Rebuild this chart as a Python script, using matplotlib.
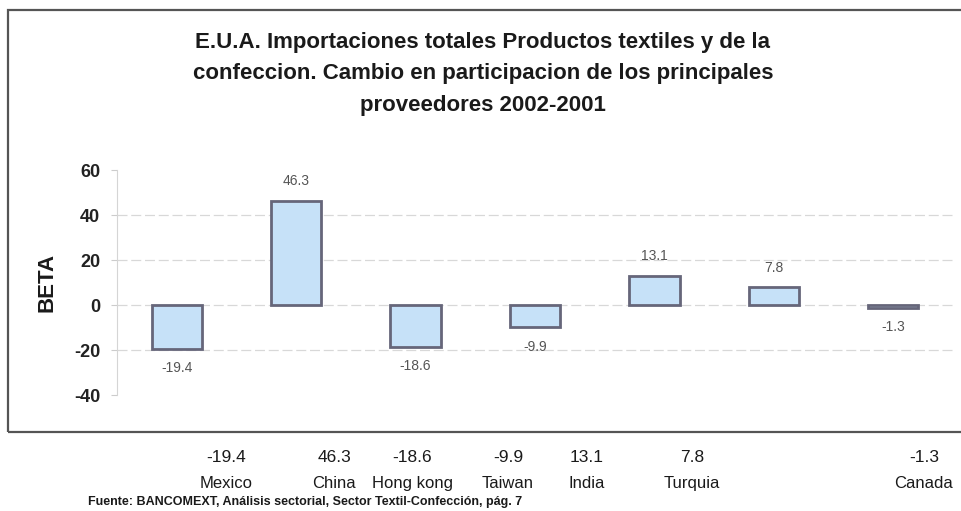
import matplotlib
matplotlib.use('Agg')
import matplotlib.pyplot as plt
from matplotlib.patches import Rectangle

plt.rcParams['font.family'] = ['Liberation Sans', 'DejaVu Sans']

# Data
countries = ['Mexico', 'China', 'Hong kong', 'Taiwan', 'India', 'Turquia', 'Canada']
values = [-19.4, 46.3, -18.6, -9.9, 13.1, 7.8, -1.3]
y_ticks = [60, 40, 20, 0, -20, -40]

# layout: centers (pixels) of the table labels under the frame
table_x_px = [226, 334, 412, 508, 587, 692, 924]

W, H = 962, 511
fig = plt.figure(figsize=(W / 100, H / 100), dpi=100)
fig.patch.set_facecolor('white')

# outer frame
frame = Rectangle((8 / W, 1 - 432 / H), (W - 6) / W, (432 - 10) / H,
                  transform=fig.transFigure, fill=False,
                  edgecolor='#555555', linewidth=1.6)
fig.add_artist(frame)

# title
fig.text(483 / W, 1 - 74 / H,
         'E.U.A. Importaciones totales Productos textiles y de la\n'
         'confeccion. Cambio en participacion de los principales\n'
         'proveedores 2002-2001',
         ha='center', va='center', fontsize=16, fontweight='bold',
         color='#1a1a1a', linespacing=1.65)

ax = fig.add_axes([117 / W, 1 - 395 / H, 836 / W, 225 / H])
x = list(range(len(countries)))
bars = ax.bar(x, values, width=0.42, color='#c6e1f8',
              edgecolor='#66667a', linewidth=2.0, zorder=3)

ax.set_xlim(-0.5, len(countries) - 0.5)
ax.set_ylim(-40, 60)
ax.set_yticks(y_ticks)
ax.set_yticklabels([str(t) for t in y_ticks], fontsize=13, fontweight='bold',
                   color='#222222')
ax.set_xticks([])
ax.tick_params(axis='y', length=4, color='#cccccc', pad=8)

for side in ['top', 'right', 'bottom']:
    ax.spines[side].set_visible(False)
ax.spines['left'].set_color('#d5d5d5')
ax.spines['left'].set_linewidth(0.8)

for t in y_ticks:
    if t in (60, -40):
        continue
    ax.axhline(t, color='#d8d8d8', linewidth=0.9, linestyle=(0, (8, 3)),
               zorder=1)

ax.set_ylabel('BETA', fontsize=16, fontweight='bold', color='#1a1a1a',
              labelpad=12)

# value labels on bars
for xi, v in zip(x, values):
    off = 14 if v > 0 else -14
    ax.annotate(f'{v:.1f}', (xi, v), xytext=(0, off),
                textcoords='offset points', ha='center', va='center',
                fontsize=10, color='#555555', zorder=4)

# data table under the frame
for px, v, name in zip(table_x_px, values, countries):
    fig.text(px / W, 1 - 458 / H, f'{v:.1f}', ha='center', va='center',
             fontsize=12.5, color='#1a1a1a')
    fig.text(px / W, 1 - 483 / H, name, ha='center', va='center',
             fontsize=12, color='#1a1a1a')

fig.text(88 / W, 1 - 502 / H,
         'Fuente: BANCOMEXT, Análisis sectorial, Sector Textil-Confección, pág. 7',
         ha='left', va='center', fontsize=9, fontweight='bold',
         color='#1a1a1a')

fig.savefig('out.png', dpi=100, facecolor='white')
